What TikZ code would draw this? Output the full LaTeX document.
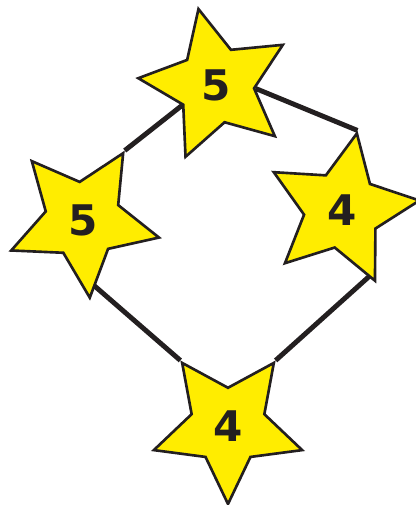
\documentclass[tikz,border=0pt]{standalone}
\usepackage{fontspec}
\usepackage{tikz}
\usetikzlibrary{shapes.geometric,backgrounds}
\newfontfamily\digitfont{DejaVu Sans}
\definecolor{staryellow}{HTML}{FFED00}
\definecolor{inkdark}{HTML}{231F20}
\tikzset{
  starnode/.style={star, star points=5, star point ratio=2.04, minimum size=3.12cm,
    inner sep=0pt, fill=staryellow, draw=inkdark, line width=1.5pt,
    text=inkdark, font=\digitfont\bfseries\fontsize{24}{24}\selectfont},
  edgeline/.style={draw=inkdark, line width=2.8pt}
}
\begin{document}
\begin{tikzpicture}[x=0.02cm, y=-0.02cm]
\useasboundingbox (0,0) rectangle (416,505);
\foreach \nm/\x/\y/\r/\t in {top/216/85/13/5, left/83/220/-31/5, right/342/210/-11/4, bottom/228/426/180/4}
  \node[starnode, shape border rotate=\r] (\nm) at (\x,\y) {\t};
\coordinate (leftend) at (90,282);
\coordinate (rightend) at (373,273);
\begin{scope}[on background layer]
\draw[edgeline] (top.inner point 2) -- (left.outer point 1);
\draw[edgeline] (top.inner point 4) -- (right.outer point 1);
\draw[edgeline] (leftend) -- (bottom.outer point 4);
\draw[edgeline] (rightend) -- (bottom.outer point 3);
\end{scope}
\end{tikzpicture}
\end{document}
